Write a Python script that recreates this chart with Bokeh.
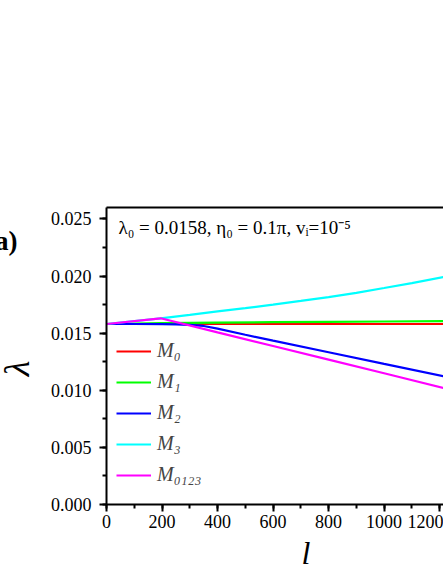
import math
from bokeh.plotting import figure
from bokeh.models import (Range1d, LinearAxis, SingleIntervalTicker, FixedTicker,
                          PrintfTickFormatter, Legend, LegendItem, Label, Title)
from bokeh.embed import file_html
from bokeh.resources import INLINE

# ---- data ----
l_M0 = [0, 200, 400, 600, 800, 1000, 1220]
lam_M0 = [0.0158, 0.0158, 0.0158, 0.0158, 0.0158, 0.0158, 0.0158]

l_M1 = [0, 200, 400, 600, 800, 1000, 1220]
lam_M1 = [0.0158, 0.01588, 0.01593, 0.01596, 0.01599, 0.01602, 0.01605]

l_M2 = [0, 100, 200, 250, 300, 350, 400, 500, 600, 800, 1000, 1220]
lam_M2 = [0.0158, 0.0158, 0.01579, 0.01577, 0.01573, 0.01563, 0.01539,
          0.01486, 0.01434, 0.01333, 0.01231, 0.01120]

l_M3 = [0, 195, 300, 400, 500, 600, 700, 800, 900, 1000, 1100, 1220]
lam_M3 = [0.0158, 0.0163, 0.01660, 0.01690, 0.01719, 0.01750, 0.01782,
          0.01815, 0.01853, 0.01895, 0.01938, 0.01995]

l_M0123 = [0, 195, 400, 600, 800, 1000, 1220]
lam_M0123 = [0.0158, 0.0163, 0.01507, 0.01388, 0.01268, 0.01149, 0.01017]

series_names = ["M₀", "M₁", "M₂", "M₃", "M₀₁₂₃"]
series_colors = ["#ff0000", "#00ff00", "#0000ff", "#00ffff", "#ff00ff"]
series_l = [l_M0, l_M1, l_M2, l_M3, l_M0123]
series_lam = [lam_M0, lam_M1, lam_M2, lam_M3, lam_M0123]

x_ticks_interval = 200
y_ticks_interval = 0.005

SERIF = "Liberation Serif"

p = figure(width=443, height=573, output_backend="svg", toolbar_location=None,
           x_range=Range1d(0, 1214), y_range=Range1d(0, 0.026),
           x_axis_location=None, y_axis_location=None,
           min_border_left=106, min_border_right=0, min_border_top=207, min_border_bottom=69)
p.grid.visible = False
p.outline_line_color = None
p.background_fill_color = "white"
p.border_fill_color = "white"

def style_axis(ax):
    ax.axis_line_color = "black"
    ax.axis_line_width = 2
    ax.major_tick_line_color = "black"
    ax.major_tick_line_width = 2
    ax.minor_tick_line_color = "black"
    ax.minor_tick_line_width = 2
    ax.major_tick_in = 0
    ax.major_tick_out = 7
    ax.minor_tick_in = 0
    ax.minor_tick_out = 4
    ax.major_label_text_font = SERIF
    ax.major_label_text_font_size = "18px"
    ax.major_label_text_color = "black"
    ax.major_label_standoff = 3

xaxis = LinearAxis(ticker=SingleIntervalTicker(interval=x_ticks_interval, num_minor_ticks=2))
style_axis(xaxis)
p.add_layout(xaxis, "below")

yaxis = LinearAxis(ticker=SingleIntervalTicker(interval=y_ticks_interval, num_minor_ticks=2),
                   formatter=PrintfTickFormatter(format="%.3f"))
style_axis(yaxis)
yaxis.major_label_standoff = 8
p.add_layout(yaxis, "left")

top = LinearAxis(ticker=FixedTicker(ticks=[]), major_tick_line_color=None,
                 minor_tick_line_color=None, major_tick_out=0, minor_tick_out=0,
                 major_tick_in=0, minor_tick_in=0, major_label_standoff=0,
                 axis_line_width=2, axis_line_color="black")
p.add_layout(top, "above")

# x-axis title as a Title below the axis, shifted to where the reference has it
p.add_layout(Title(text="l", align="left", offset=195, text_font=SERIF,
                   text_font_style="italic", text_font_size="32px",
                   text_color="black", standoff=4), "below")

# panel tag and y-axis title: placed in the top side panel so they are not clipped
p.add_layout(Label(x=-89, y=-33, x_units="screen", y_units="screen", text="(a)",
                   text_font=SERIF, text_font_style="bold",
                   text_font_size="27px", text_align="right", text_baseline="middle",
                   text_color="black"), "above")
p.add_layout(Label(x=-90, y=-191, x_units="screen", y_units="screen", text="λ",
                   angle=math.pi / 2, text_font=SERIF, text_font_style="italic",
                   text_font_size="36px", text_align="center", text_baseline="middle",
                   text_color="black"), "above")

items = []
for name, col, xs, ys in zip(series_names, series_colors, series_l, series_lam):
    r = p.line(xs, ys, line_color=col, line_width=2.2)
    items.append(LegendItem(label=name, renderers=[r]))

legend = Legend(items=items, location=(10, 18), padding=4, spacing=8,
                glyph_width=35, glyph_height=20, label_height=20, label_standoff=6,
                label_text_font=SERIF, label_text_font_style="italic",
                label_text_font_size="20px", background_fill_alpha=0,
                border_line_color=None)
p.add_layout(legend, "center")

p.add_layout(Label(x=12, y=277, x_units="screen", y_units="screen",
                   text="λ₀ = 0.0158, η₀ = 0.1π, vᵢ=10⁻⁵",
                   text_font=SERIF, text_font_size="19px", text_baseline="middle",
                   text_color="black"))

open("out.html", "w").write(file_html(p, INLINE))
